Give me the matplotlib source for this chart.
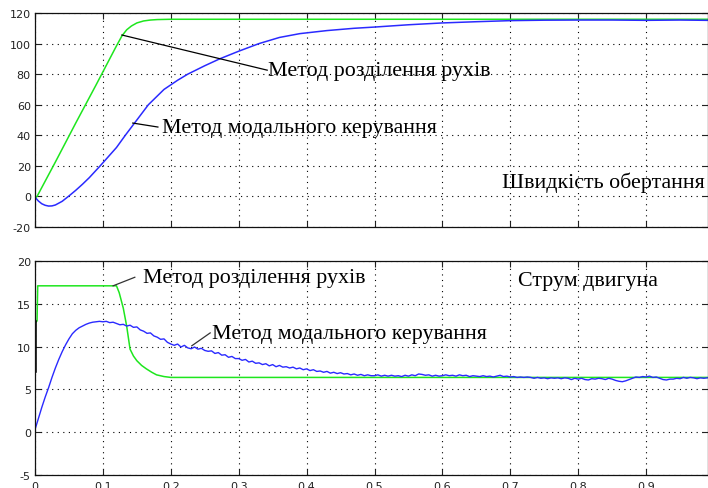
import numpy as np
import matplotlib
matplotlib.use("Agg")
import matplotlib.pyplot as plt

plt.rcParams['axes.unicode_minus'] = False

# ---- top panel: rotation speed ----
t_sep_w = [0, 0.003, 0.03, 0.06, 0.09, 0.12, 0.128, 0.135, 0.142, 0.15, 0.16, 0.17, 0.18, 0.2, 0.99]
w_sep = [-1, 0, 22.5, 48, 73, 98.5, 105, 109, 111.5, 113.5, 114.8, 115.4, 115.7, 115.9, 115.9]

t_mod_w = [0, 0.005, 0.01, 0.015, 0.02, 0.025, 0.03, 0.04, 0.05, 0.06, 0.07, 0.08, 0.096,
           0.11, 0.12, 0.133, 0.15, 0.167, 0.19, 0.21, 0.225, 0.25, 0.272, 0.3, 0.33,
           0.36, 0.39, 0.43, 0.47, 0.5, 0.55, 0.6, 0.65, 0.7, 0.75, 0.8, 0.85, 0.9, 0.95, 0.99]
w_mod = [-0.5, -3, -4.8, -5.8, -6.3, -6.2, -5.6, -3.2, 0.3, 4, 8, 12.3, 20,
         27, 32, 40, 50, 60, 70, 76, 80, 85.5, 90, 95, 100,
         104, 106.5, 108.5, 110, 110.8, 112.3, 113.5, 114.3, 115, 115.3, 115.4, 115.4, 115.2, 115.4, 115.2]

# ---- bottom panel: motor current ----
t_sep_i = [0, 0.0005, 0.003, 0.004, 0.12, 0.124, 0.13, 0.135, 0.14, 0.145, 0.15, 0.157,
           0.164, 0.172, 0.179, 0.19, 0.2, 0.99]
i_sep = [0, 12.8, 13, 17.1, 17.1, 16.3, 14.5, 12.4, 9.7, 8.9, 8.35, 7.8,
         7.4, 7.0, 6.7, 6.5, 6.4, 6.4]

t_glitch = [0.0015, 0.0015]
i_glitch = [7, 13]

i_mod = [0.30, 1.60, 2.90, 4.10, 5.20, 6.40, 7.50, 8.50, 9.40, 10.20,
         10.90, 11.50, 11.90, 12.20, 12.40, 12.60, 12.75, 12.85, 12.90, 12.95,
         12.90, 12.95, 12.80, 12.85,
         12.70, 12.55, 12.60, 12.40, 12.50, 12.25, 12.30, 11.95, 11.80, 11.55,
         11.60, 11.25, 11.10, 10.85, 10.90, 10.50, 10.30, 10.15, 10.30, 9.95,
         10.15, 9.85, 9.75, 9.95, 9.70, 9.80, 9.55, 9.45, 9.50, 9.20,
         9.30, 9.00, 9.05, 8.75, 8.85, 8.60, 8.60, 8.40, 8.50, 8.20,
         8.30, 8.05, 8.10, 7.90, 8.00, 7.75, 7.90, 7.65, 7.80, 7.60,
         7.65, 7.50, 7.60, 7.40, 7.50, 7.30, 7.40, 7.20, 7.30, 7.10,
         7.15, 7.00, 7.10, 6.90, 7.00, 6.85, 6.95, 6.80, 6.85, 6.70,
         6.80, 6.65, 6.75, 6.60, 6.70, 6.60, 6.60, 6.70, 6.55, 6.65,
         6.55, 6.65, 6.55, 6.60, 6.50, 6.65, 6.55, 6.70, 6.60, 6.80,
         6.75, 6.65, 6.70, 6.55, 6.65, 6.55, 6.60, 6.70, 6.60, 6.65,
         6.55, 6.70, 6.60, 6.65, 6.50, 6.60, 6.55, 6.50, 6.60, 6.50,
         6.55, 6.45, 6.55, 6.65, 6.50, 6.55, 6.45, 6.50, 6.40, 6.45,
         6.40, 6.45, 6.40, 6.30, 6.40, 6.30, 6.35, 6.25, 6.35, 6.30,
         6.35, 6.25, 6.35, 6.30, 6.15, 6.30, 6.20, 6.30, 6.15, 6.10,
         6.25, 6.20, 6.30, 6.25, 6.15, 6.30, 6.20, 6.05, 5.95, 5.90,
         6.00, 6.15, 6.30, 6.45, 6.40, 6.50, 6.45, 6.55, 6.40, 6.45,
         6.30, 6.15, 6.10, 6.20, 6.20, 6.30, 6.25, 6.40, 6.30, 6.40,
         6.35, 6.25, 6.35, 6.30, 6.35]
t_mod_i = np.linspace(0, 0.99, len(i_mod))

green = '#1ee61e'
blue = '#2a2aff'
serif = 'Liberation Serif'
tfs = 15.8

fig = plt.figure(figsize=(7.08, 4.89), dpi=100)
W, H = 708.0, 489.0
ax1 = fig.add_axes([35/W, 1-228/H, 1-35/W, 214/H])
ax2 = fig.add_axes([35/W, 1-476/H, 1-35/W, 214/H])

for ax in (ax1, ax2):
    ax.set_xlim(0, 673/679.)
    ax.set_xticks(np.arange(0, 1.0, 0.1))
    ax.grid(True, color='k', linestyle=(0, (1, 4)), linewidth=0.8)
    ax.tick_params(direction='in', top=True, right=True, length=4, width=0.8,
                   labelsize=8, colors='#222222', pad=3)
    for s in ax.spines.values():
        s.set_linewidth(0.9)
        s.set_color('#111111')

# top
ax1.plot(t_sep_w, w_sep, color=green, lw=1.1)
ax1.plot(t_mod_w, w_mod, color=blue, lw=1.1)
ax1.set_ylim(-20, 120)
ax1.set_yticks(np.arange(-20, 121, 20))
ax1.set_xticklabels([])

ax1.plot([0.128, 0.342], [105.6, 82.6], color='k', lw=0.9)
ax1.text(0.343, 82.1, 'Метод розділення рухів', family=serif, fontsize=tfs, va='center', ha='left')
ax1.plot([0.144, 0.181], [48.0, 45.4], color='k', lw=0.9)
ax1.text(0.187, 45.4, 'Метод модального керування', family=serif, fontsize=tfs, va='center', ha='left')
ax1.text(0.688, 9.4, 'Швидкість обертання', family=serif, fontsize=tfs, va='center', ha='left')

# bottom
ax2.plot(t_sep_i, i_sep, color=green, lw=1.1)
ax2.plot(t_glitch, i_glitch, color='k', lw=1.1)
ax2.plot(t_mod_i, i_mod, color=blue, lw=1.0)
ax2.set_ylim(-5, 20)
ax2.set_yticks(np.arange(-5, 21, 5))
ax2.set_xticklabels(['0', '0.1', '0.2', '0.3', '0.4', '0.5', '0.6', '0.7', '0.8', '0.9'])
ax2.tick_params(axis='x', pad=4)

ax2.plot([0.115, 0.147], [17.1, 18.1], color='#333333', lw=0.9)
ax2.text(0.159, 18.1, 'Метод розділення рухів', family=serif, fontsize=tfs, va='center', ha='left')
ax2.plot([0.231, 0.258], [10.1, 11.6], color='#333333', lw=0.9)
ax2.text(0.260, 11.55, 'Метод модального керування', family=serif, fontsize=tfs, va='center', ha='left')
ax2.text(0.712, 17.7, 'Струм двигуна', family=serif, fontsize=tfs, va='center', ha='left')

fig.savefig('out.png', dpi=100)
